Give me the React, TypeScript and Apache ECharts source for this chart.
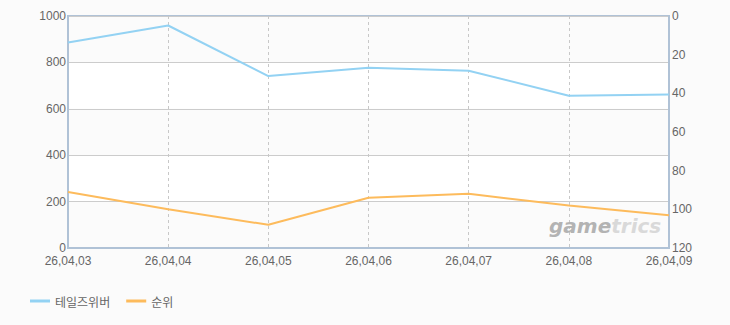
import React, { useEffect, useRef } from "react";
import * as echarts from "echarts";

const categories = ["26,04,03", "26,04,04", "26,04,05", "26,04,06", "26,04,07", "26,04,08", "26,04,09"];
const usersSeries = [886, 959, 741, 777, 764, 656, 662];
const rankSeries = [91, 100, 108, 94, 92, 98, 103];
const seriesNames = ["테일즈위버", "순위"];

export default function App() {
  const ref = useRef<HTMLDivElement>(null);
  useEffect(() => {
    if (!ref.current) return;
    const chart = echarts.init(ref.current, null, { renderer: "svg" });
    const font = "'Noto Sans CJK KR', 'Noto Sans', sans-serif";
    const numFont = "'Liberation Sans', 'DejaVu Sans', sans-serif";
    chart.setOption({
      animation: false,
      backgroundColor: "#fbfbfb",
      textStyle: { fontFamily: font },
      grid: {
        left: 68,
        right: 61,
        top: 16,
        bottom: 77,
        show: true,
        borderColor: "#b0c2d6",
        borderWidth: 2,
        backgroundColor: "transparent",
      },
      legend: {
        left: 25,
        top: 290,
        icon: "rect",
        itemWidth: 20,
        itemHeight: 3,
        itemGap: 16,
        textStyle: { color: "#666", fontSize: 12, fontFamily: font },
        data: seriesNames,
      },
      xAxis: {
        type: "category",
        data: categories,
        boundaryGap: false,
        axisLine: { show: true, lineStyle: { color: "#b0c2d6", width: 2 } },
        axisTick: { show: false },
        axisLabel: { color: "#666", fontSize: 12, margin: 7, fontFamily: numFont, interval: 0 },
        splitLine: { show: true, lineStyle: { color: "#c8c8c8", type: [3, 3], width: 1 } },
      },
      yAxis: [
        {
          type: "value",
          min: 0,
          max: 1000,
          interval: 200,
          axisLine: { show: true, lineStyle: { color: "#b0c2d6", width: 2 } },
          axisTick: { show: false },
          axisLabel: {
            color: "#666",
            fontSize: 12,
            margin: 2,
            fontFamily: numFont,
            formatter: (v: number) => String(v),
          },
          splitLine: { show: true, lineStyle: { color: "#cccccc", width: 1 } },
          splitArea: { show: true, areaStyle: { color: ["#fbfbfb", "#ffffff"] } },
        },
        {
          type: "value",
          min: 0,
          max: 120,
          interval: 20,
          inverse: true,
          axisLine: { show: true, lineStyle: { color: "#b0c2d6", width: 2 } },
          axisTick: { show: false },
          axisLabel: { color: "#666", fontSize: 12, margin: 3, fontFamily: numFont },
          splitLine: { show: false },
        },
      ],
      graphic: [
        {
          type: "text",
          left: 549,
          top: 216,
          z: 1,
          style: {
            text: "{a|game}{b|trics}",
            rich: {
              a: { fill: "#b3b3b3", fontSize: 20, fontStyle: "italic", fontWeight: "bold", fontFamily: "'DejaVu Sans', sans-serif" },
              b: { fill: "#d9d9d9", fontSize: 20, fontStyle: "italic", fontWeight: "bold", fontFamily: "'DejaVu Sans', sans-serif" },
            },
          },
        },
      ],
      series: [
        {
          name: seriesNames[0],
          type: "line",
          yAxisIndex: 0,
          data: usersSeries,
          showSymbol: false,
          symbol: "none",
          lineStyle: { color: "#93d2f3", width: 2 },
          itemStyle: { color: "#93d2f3" },
          z: 3,
        },
        {
          name: seriesNames[1],
          type: "line",
          yAxisIndex: 1,
          data: rankSeries,
          showSymbol: false,
          symbol: "none",
          lineStyle: { color: "#fdbb5c", width: 2 },
          itemStyle: { color: "#fdbb5c" },
          z: 3,
        },
      ],
    });
    return () => chart.dispose();
  }, []);
  return (
    <div
      ref={ref}
      style={{ position: "fixed", left: 0, top: 0, width: 730, height: 325, background: "#fbfbfb" }}
    />
  );
}
